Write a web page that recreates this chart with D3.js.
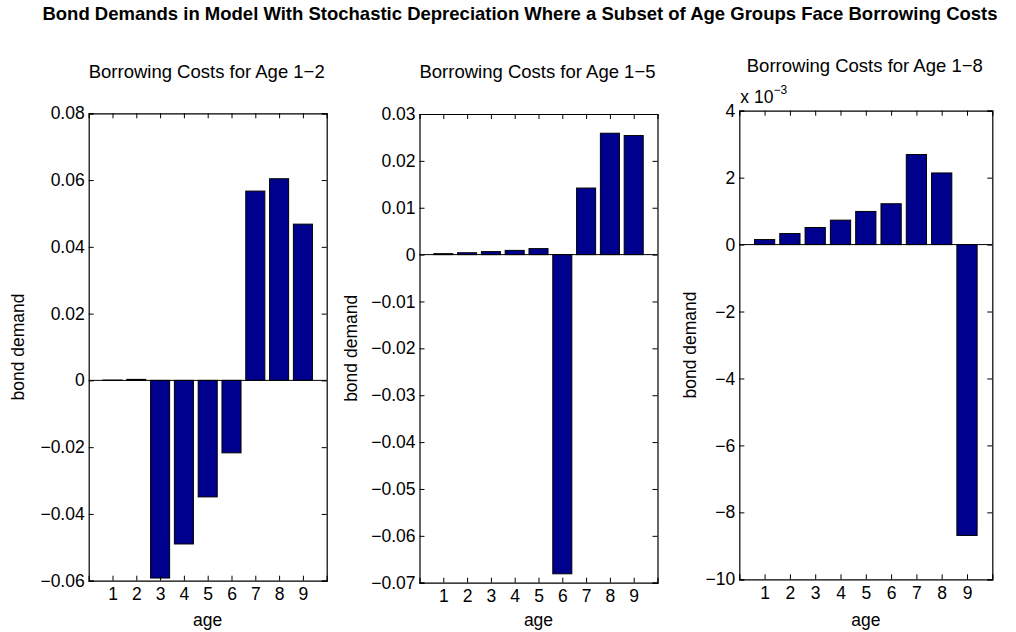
<!DOCTYPE html>
<html>
<head>
<meta charset="utf-8">
<script src="https://cdn.jsdelivr.net/npm/d3@7"></script>
<style>
  html, body { margin: 0; padding: 0; background: #fff; }
  svg { display: block; font-family: "Liberation Sans", Arial, Helvetica, sans-serif; }
</style>
</head>
<body>
<svg id="chart" width="1016" height="632"></svg>
<script>
// Age groups shared by all three panels
const ages = [1, 2, 3, 4, 5, 6, 7, 8, 9];

// Bond demand by age, one series per borrowing-cost scenario
const demandAge12 = [0.0001, 0.0003, -0.0592, -0.0490, -0.0349, -0.0217, 0.0567, 0.0604, 0.0468];
const demandAge15 = [0.0002, 0.0004, 0.00064, 0.0009, 0.00128, -0.0681, 0.0142, 0.0259, 0.0254];
// third scenario in units of 1e-3
const demandAge18 = [0.15, 0.33, 0.51, 0.73, 0.99, 1.22, 2.69, 2.14, -8.69];

// Tick values for each panel's y axis
const ticksAge12 = [-0.06, -0.04, -0.02, 0, 0.02, 0.04, 0.06, 0.08];
const ticksAge15 = [-0.07, -0.06, -0.05, -0.04, -0.03, -0.02, -0.01, 0, 0.01, 0.02, 0.03];
const ticksAge18 = [-10, -8, -6, -4, -2, 0, 2, 4];

const panelTitles = ["Borrowing Costs for Age 1\u22122", "Borrowing Costs for Age 1\u22125", "Borrowing Costs for Age 1\u22128"];
const mainTitle = "Bond Demands in Model With Stochastic Depreciation Where a Subset of Age Groups Face Borrowing Costs";

const svg = d3.select("#chart");
const barFill = "#00008f";
const fmtMinus = s => s.replace("-", "\u2212");
const fs = 17.5;

svg.append("text")
  .attr("x", 520).attr("y", 20)
  .attr("text-anchor", "middle")
  .attr("font-weight", "bold")
  .attr("font-size", 18.5)
  .text(mainTitle);

const panels = [
  { values: demandAge12, ticks: ticksAge12, title: panelTitles[0], box: [88.7, 326.7, 113.3, 580.7], fmt: d => d === 0 ? "0" : d3.format(".2f")(d), ylabX: 18, titleY: 78 },
  { values: demandAge15, ticks: ticksAge15, title: panelTitles[1], box: [419.5, 657.5, 114, 582.7], fmt: d => d === 0 ? "0" : d3.format(".2f")(d), ylabX: 351, titleY: 78 },
  { values: demandAge18, ticks: ticksAge18, title: panelTitles[2], box: [739.3, 992.3, 110.7, 579.3], fmt: d => d3.format("d")(d), ylabX: 690, titleY: 72, exponent: true }
];

panels.forEach(p => {
  const [x0, x1, y0, y1] = p.box;
  const ext = d3.extent(p.ticks);
  const x = d3.scaleLinear().domain([0, 10]).range([x0, x1]);
  const y = d3.scaleLinear().domain(ext).range([y1, y0]);
  const step = x(1) - x(0);
  const bw = step * 0.8;
  const g = svg.append("g");

  // bars
  g.selectAll("rect.bar").data(ages).join("rect")
    .attr("class", "bar")
    .attr("x", d => x(d) - bw / 2)
    .attr("width", bw)
    .attr("y", (d, i) => y(Math.max(0, p.values[i])))
    .attr("height", (d, i) => Math.abs(y(p.values[i]) - y(0)))
    .attr("fill", barFill)
    .attr("stroke", "#000")
    .attr("stroke-width", 1);

  // zero baseline
  g.append("line")
    .attr("x1", x0).attr("x2", x1)
    .attr("y1", y(0)).attr("y2", y(0))
    .attr("stroke", "#000").attr("stroke-width", 1);

  // axes with inward ticks on all four sides
  const tl = 5;
  g.append("g").attr("transform", `translate(0,${y1})`)
    .call(d3.axisBottom(x).tickValues(ages).tickSize(-tl).tickPadding(7).tickFormat(d3.format("d")));
  g.append("g").attr("transform", `translate(0,${y0})`)
    .call(d3.axisTop(x).tickValues(ages).tickSize(-tl).tickFormat(""));
  g.append("g").attr("transform", `translate(${x0},0)`)
    .call(d3.axisLeft(y).tickValues(p.ticks).tickSize(-tl).tickPadding(4).tickFormat(d => fmtMinus(p.fmt(d))));
  g.append("g").attr("transform", `translate(${x1},0)`)
    .call(d3.axisRight(y).tickValues(p.ticks).tickSize(-tl).tickFormat(""));

  g.selectAll(".domain").attr("stroke", "#000").attr("stroke-width", 1.2);
  g.selectAll(".tick line").attr("stroke", "#000");
  g.selectAll(".tick text").attr("font-size", fs).attr("fill", "#000")
    .attr("font-family", "'Liberation Sans', Arial, sans-serif");

  // panel title
  svg.append("text")
    .attr("x", (x0 + x1) / 2 - 1).attr("y", p.titleY)
    .attr("text-anchor", "middle").attr("font-size", 18.5)
    .text(p.title);

  // axis labels
  svg.append("text")
    .attr("x", (x0 + x1) / 2).attr("y", 626)
    .attr("text-anchor", "middle").attr("font-size", fs)
    .text("age");
  svg.append("text")
    .attr("transform", `translate(${p.ylabX + 6},${(y0 + y1) / 2}) rotate(-90)`)
    .attr("text-anchor", "middle").attr("font-size", fs)
    .text("bond demand");

  if (p.exponent) {
    const t = svg.append("text").attr("x", x0 + 1).attr("y", 103).attr("font-size", fs);
    t.append("tspan").text("x 10");
    t.append("tspan").attr("dy", -9).attr("font-size", 12).text("\u22123");
  }
});
</script>
</body>
</html>
